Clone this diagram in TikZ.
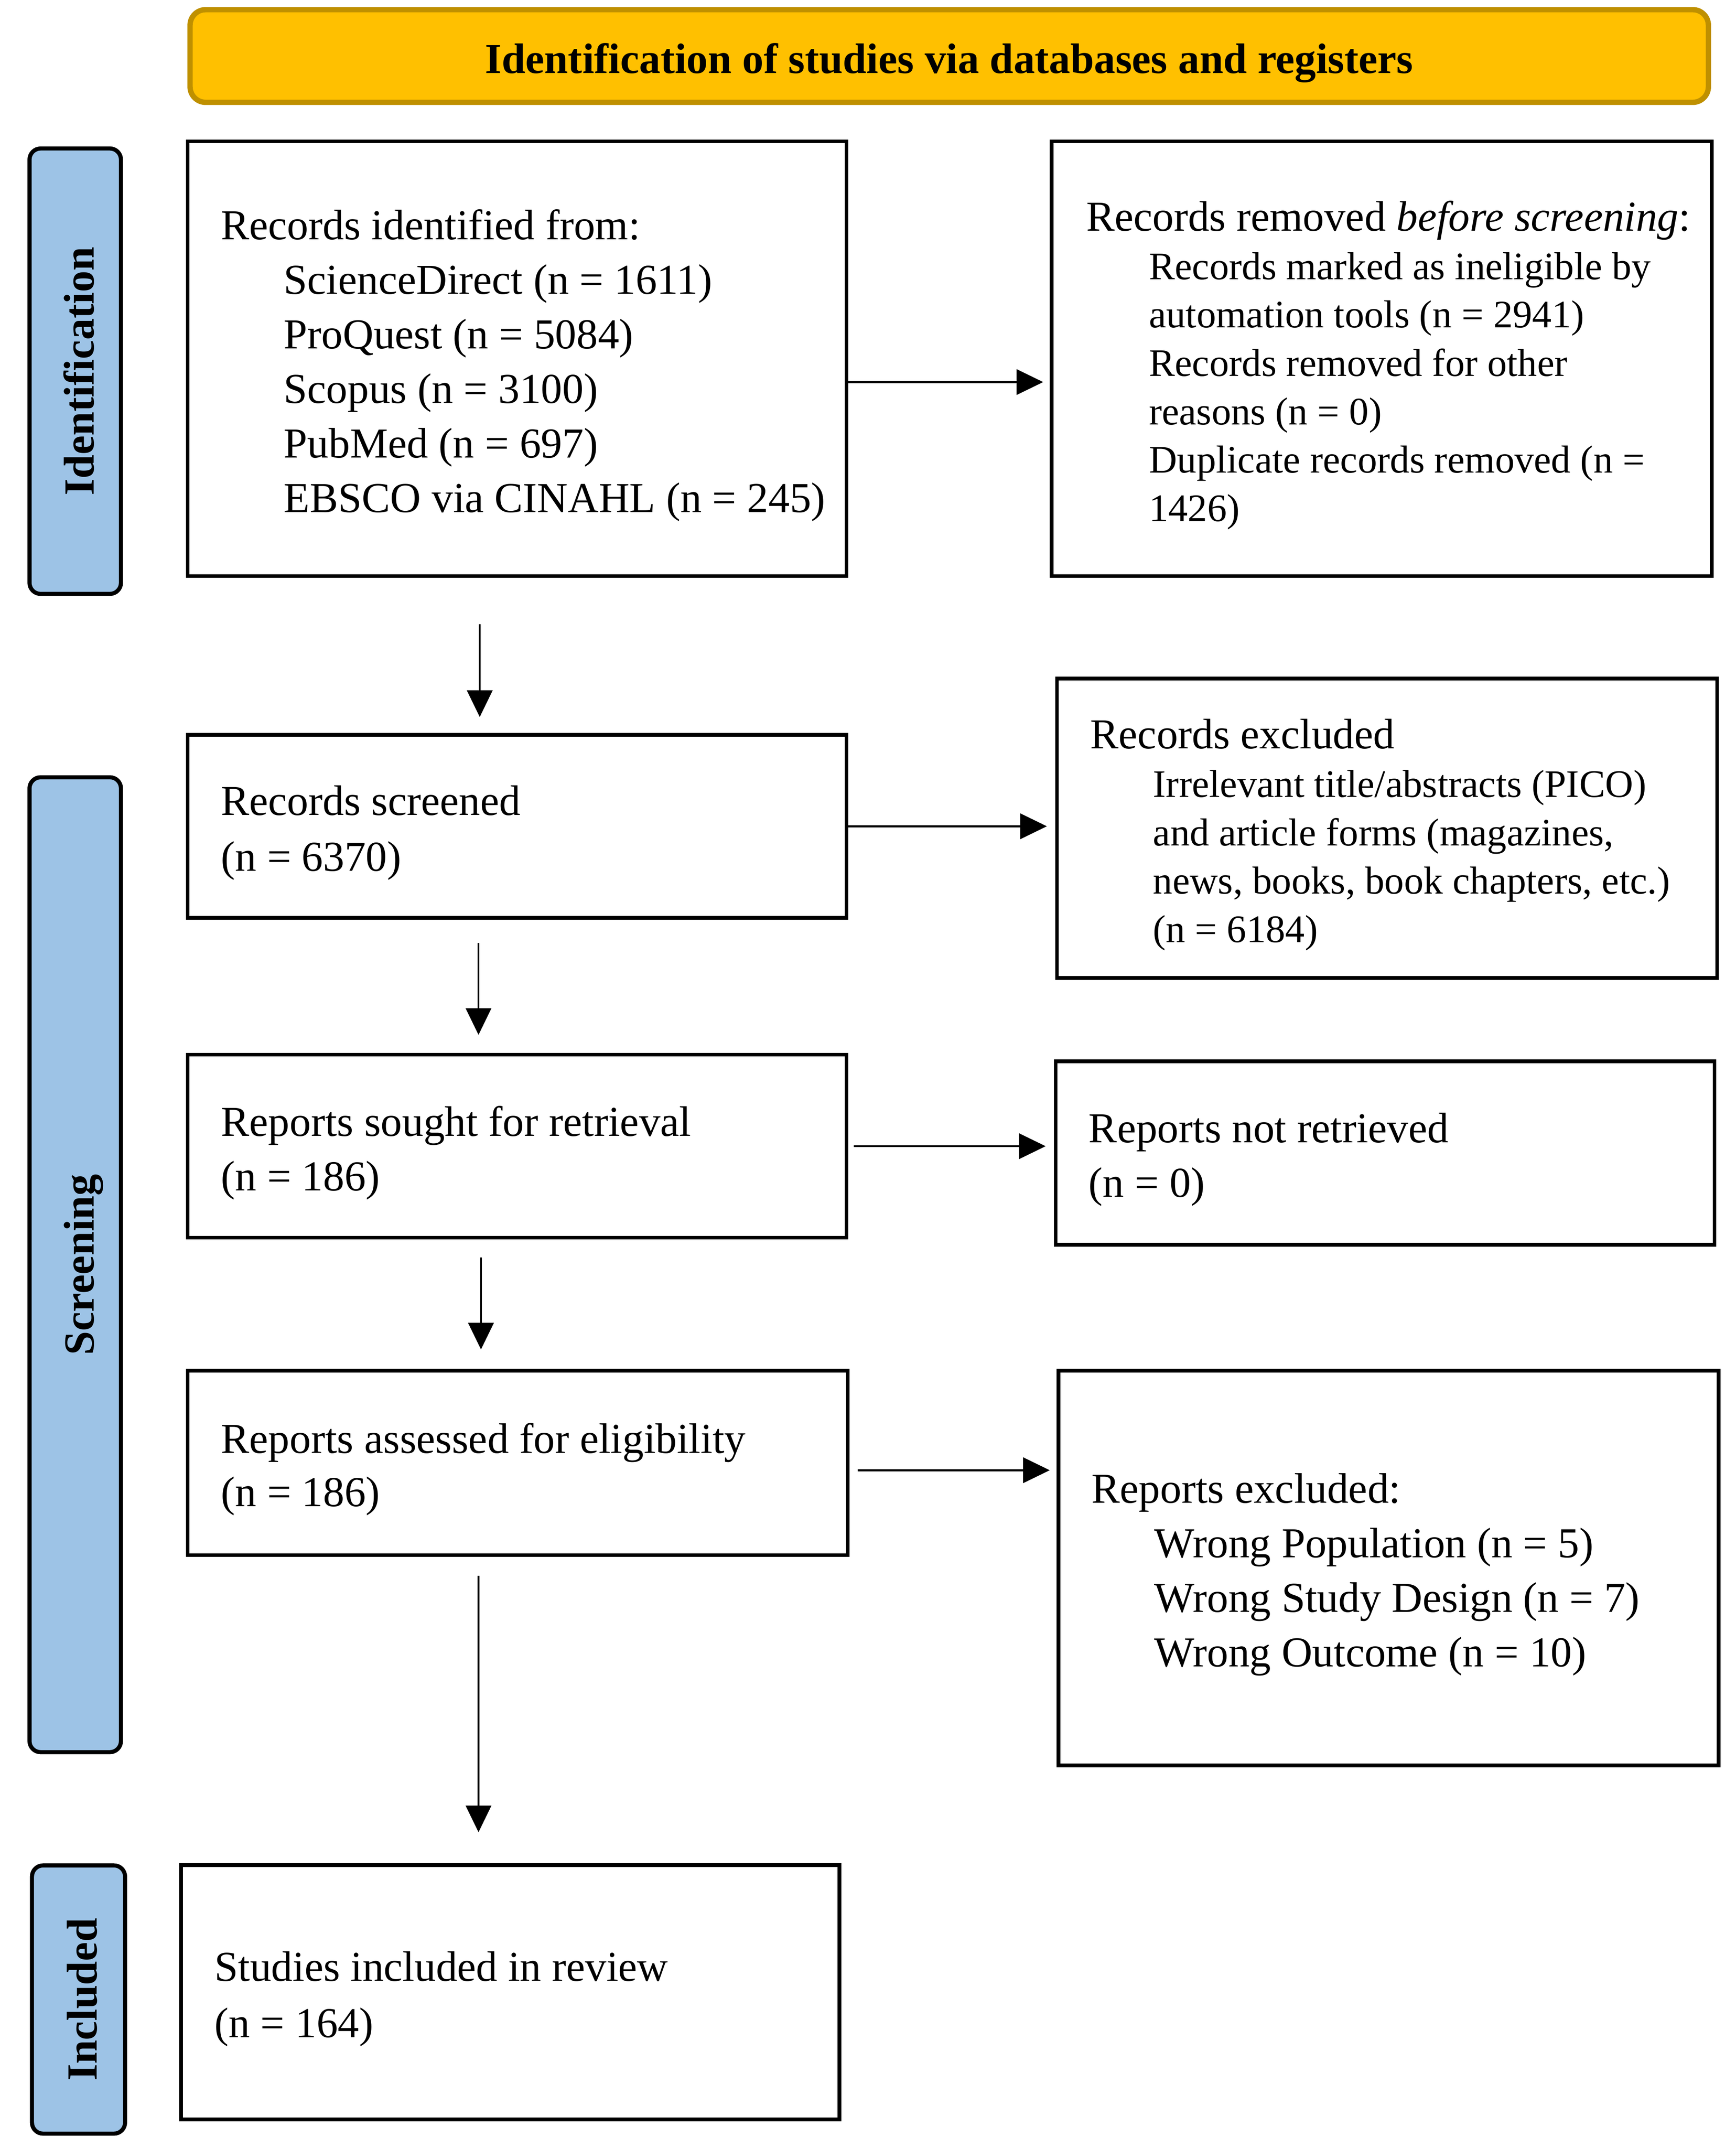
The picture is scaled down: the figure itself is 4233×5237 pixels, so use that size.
\documentclass[tikz,border=0pt]{standalone}
\usepackage{fontspec}
\setmainfont{Liberation Serif}
\usetikzlibrary{arrows.meta}
\definecolor{hdrfill}{HTML}{FFC000}
\definecolor{hdrline}{HTML}{BF9000}
\definecolor{sidefill}{HTML}{9DC3E6}
\newcommand{\mainsz}{\fontsize{10.4}{13.3}\selectfont}
\newcommand{\subsz}{\fontsize{9.5}{11.8}\selectfont}
\newcommand{\ind}{\hspace*{15.3pt}}
\begin{document}
\begin{tikzpicture}[x=0.1pt, y=-0.1pt,
  box/.style={draw, line width=0.9pt, inner sep=0pt, anchor=north west},
  txt/.style={anchor=west, align=left, inner sep=0pt, font=\mainsz, yshift=-1.6pt},
  subtxt/.style={anchor=west, align=left, inner sep=0pt, font=\subsz, yshift=-1.6pt},
  side/.style={draw=black, fill=sidefill, rounded corners=2.7pt, line width=1pt, inner sep=0pt, anchor=north west},
  sidetxt/.style={rotate=90, inner sep=0pt, text height=7pt, text depth=2pt, font=\fontsize{10.5}{12}\selectfont\bfseries},
  hdr/.style={draw=hdrline, fill=hdrfill, rounded corners=3.8pt, line width=1.3pt, inner sep=0pt, anchor=north west},
  arr/.style={line width=0.47pt, -{Triangle[length=6.5pt,width=6.2pt]}}
]
\useasboundingbox (0,0) rectangle (4233,5237);

% header
\node[hdr, minimum width=370.3pt, minimum height=22.6pt] (head) at (457,17) {};
\node[inner sep=0pt, font=\fontsize{10.4}{12}\selectfont\bfseries] (headtxt) at ([yshift=-1.7pt]head.center) {Identification of studies via databases and registers};

% side labels
\node[side, minimum width=22.3pt, minimum height=108.6pt] (s1) at (67,357) {};
\node[sidetxt] (s1t) at ([xshift=2pt]s1.center) {Identification};
\node[side, minimum width=22.3pt, minimum height=237.7pt] (s2) at (67,1890) {};
\node[sidetxt] (s2t) at ([xshift=2pt]s2.center) {Screening};
\node[side, minimum width=22.7pt, minimum height=65.4pt] (s3) at (73,4543) {};
\node[sidetxt] (s3t) at ([xshift=2pt]s3.center) {Included};

% left column
\node[box, minimum width=160.7pt, minimum height=106pt] (b1) at (453,340) {};
\node[txt] (t1) at ([xshift=8.4pt]b1.west) {Records identified from:\\
\ind ScienceDirect (n = 1611)\\
\ind ProQuest (n = 5084)\\
\ind Scopus (n = 3100)\\
\ind PubMed (n = 697)\\
\ind EBSCO via CINAHL (n = 245)};

\node[box, minimum width=160.7pt, minimum height=44.6pt] (b3) at (453,1787) {};
\node[txt, font=\fontsize{10.4}{13.7}\selectfont] (t3) at ([xshift=8.4pt]b3.west) {Records screened\\(n = 6370)};

\node[box, minimum width=160.7pt, minimum height=44.6pt] (b5) at (453,2567) {};
\node[txt] (t5) at ([xshift=8.4pt]b5.west) {Reports sought for retrieval\\(n = 186)};

\node[box, minimum width=161pt, minimum height=45pt] (b7) at (453,3337) {};
\node[txt, font=\fontsize{10.4}{13}\selectfont] (t7) at ([xshift=8.4pt]b7.west) {Reports assessed for eligibility\\(n = 186)};

\node[box, minimum width=160.6pt, minimum height=62pt] (b9) at (437,4543) {};
\node[txt, font=\fontsize{10.4}{13.7}\selectfont] (t9) at ([xshift=8.4pt]b9.west) {Studies included in review\\(n = 164)};

% right column
\node[box, minimum width=161pt, minimum height=106pt] (b2) at (2560,340) {};
\node[subtxt] (t2) at ([xshift=8.7pt]b2.west) {{\mainsz Records removed \textit{before screening}:}\\
\ind Records marked as ineligible by\\
\ind automation tools (n = 2941)\\
\ind Records removed for other\\
\ind reasons (n = 0)\\
\ind Duplicate records removed (n =\\
\ind 1426)};

\node[box, minimum width=161pt, minimum height=73pt] (b4) at (2573,1650) {};
\node[subtxt] (t4) at ([xshift=8.4pt]b4.west) {{\mainsz Records excluded}\\
\ind Irrelevant title/abstracts (PICO)\\
\ind and article forms (magazines,\\
\ind news, books, book chapters, etc.)\\
\ind (n = 6184)};

\node[box, minimum width=160.7pt, minimum height=44.7pt] (b6) at (2570,2583) {};
\node[txt] (t6) at ([xshift=8.3pt]b6.west) {Reports not retrieved\\(n = 0)};

\node[box, minimum width=161pt, minimum height=96.3pt] (b8) at (2577,3337) {};
\node[txt] (t8) at ([xshift=8.3pt]b8.west) {Reports excluded:\\
\ind Wrong Population (n = 5)\\
\ind Wrong Study Design (n = 7)\\
\ind Wrong Outcome (n = 10)};

% horizontal arrows
\draw[arr] ([yshift=-5.7pt]b1.east) -- ([yshift=-5.7pt,xshift=-1.6pt]b2.west);
\draw[arr] (b3.east) -- ([xshift=-2pt]b4.west |- b3.east);
\draw[arr] ([xshift=1.3pt]b5.east) -- ([xshift=-2pt]b6.west |- b5.east);
\draw[arr] ([xshift=2pt,yshift=-1.8pt]b7.east) -- ([xshift=-1.7pt,yshift=-1.8pt]b7.east -| b8.west);

% vertical arrows
\draw[arr] ([xshift=71.7pt,yshift=-11.3pt]b1.south west) -- ([xshift=71.7pt,yshift=3.9pt]b3.north west);
\draw[arr] ([xshift=71.4pt,yshift=-5.7pt]b3.south west) -- ([xshift=71.4pt,yshift=4.4pt]b5.north west);
\draw[arr] ([xshift=72pt,yshift=-4.4pt]b5.south west) -- ([xshift=72pt,yshift=4.7pt]b7.north west);
\draw[arr] ([xshift=71.4pt,yshift=-4.6pt]b7.south west) -- ([xshift=73pt,yshift=7.6pt]b9.north west);
\end{tikzpicture}
\end{document}
